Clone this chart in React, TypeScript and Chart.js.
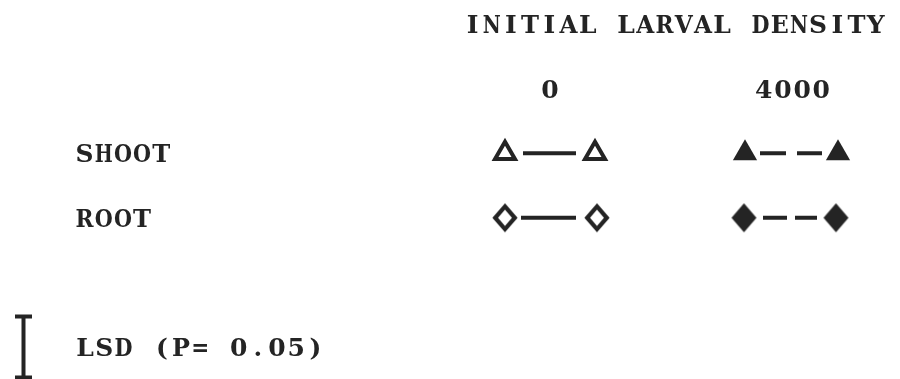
import { useEffect, useRef } from "react";
import { Chart, registerables } from "chart.js";

Chart.register(...registerables);

// ---- text content ----
const titleText = "INITIAL LARVAL DENSITY";
const densityLabels = ["0", "4000"];
const organLabels = ["SHOOT", "ROOT"];
const lsdText = "LSD (P= 0.05)";

// ---- typewriter lines (y scale is in line units) ----
const titleLine = 0;
const densityLine = 1;
const organLines = [2, 3];
const lsdLine = 5;

// ---- horizontal positions (x scale units) ----
const charAdvance = 19.2;
const titleFirstCenter = 472.5;
const densityCenters = [550, 792.5];
const organFirstCenter = 84.5;
const lsdFirstCenter = 85;

// legend samples: symbol centres and connecting line spans
const shootOpenX = [505, 595];
const shootFilledX = [745, 838];
const rootOpenX = [505, 597];
const rootFilledX = [744, 836];
const shootOpenSpan = [523, 576];
const shootFilledSpan = [760, 822];
const rootOpenSpan = [521, 576];
const rootFilledSpan = [763, 817];

// LSD bar
const lsdBarX = 23.5;
const lsdCapX = [15, 32];
const lsdHalfLength = 0.472;

const INK = "#242424";

function makeDiamond(w: number, h: number, filled: boolean): HTMLCanvasElement {
  const c = document.createElement("canvas");
  c.width = w + 4;
  c.height = h + 4;
  const g = c.getContext("2d")!;
  const cx = c.width / 2;
  const cy = c.height / 2;
  const lw = 4.2;
  const ix = filled ? 0 : lw * 0.75;
  const iy = filled ? 0 : lw * 0.75;
  g.beginPath();
  g.moveTo(cx, cy - h / 2 + iy);
  g.lineTo(cx + w / 2 - ix, cy);
  g.lineTo(cx, cy + h / 2 - iy);
  g.lineTo(cx - w / 2 + ix, cy);
  g.closePath();
  if (filled) {
    g.fillStyle = INK;
    g.fill();
  } else {
    g.fillStyle = "#fff";
    g.fill();
    g.lineWidth = lw;
    g.lineJoin = "miter";
    g.strokeStyle = INK;
    g.stroke();
  }
  return c;
}

const typewriterPlugin = {
  id: "typewriterText",
  afterDatasetsDraw(chart: any) {
    const { ctx, scales } = chart;
    const xs = scales.x;
    const ys = scales.y;
    ctx.save();
    ctx.fillStyle = INK;
    ctx.font = 'bold 25px "DejaVu Serif"';
    ctx.textAlign = "center";
    ctx.textBaseline = "alphabetic";
    const put = (s: string, firstCenter: number, line: number) => {
      const py = ys.getPixelForValue(line) + 9;
      for (let i = 0; i < s.length; i++) {
        const ch = s[i];
        if (ch === " ") continue;
        const w = ctx.measureText(ch).width;
        const sx = Math.min(1, 18 / w);
        ctx.save();
        ctx.translate(xs.getPixelForValue(firstCenter + i * charAdvance), py);
        ctx.scale(sx, 1);
        ctx.fillText(ch, 0, 0);
        ctx.restore();
      }
    };
    put(titleText, titleFirstCenter, titleLine);
    densityLabels.forEach((s, i) => {
      put(s, densityCenters[i] - ((s.length - 1) / 2) * charAdvance, densityLine);
    });
    organLabels.forEach((s, i) => put(s, organFirstCenter, organLines[i]));
    put(lsdText, lsdFirstCenter, lsdLine);
    ctx.restore();
  },
};

export default function App() {
  const ref = useRef<HTMLCanvasElement | null>(null);

  useEffect(() => {
    if (!ref.current) return;
    const openDiamond = makeDiamond(26, 29, false);
    const filledDiamond = makeDiamond(25, 29, true);

    const seg = (span: number[], line: number, dash: number[]) => ({
      type: "line" as const,
      data: span.map((x) => ({ x, y: line })),
      showLine: true,
      borderColor: INK,
      borderWidth: 4,
      borderDash: dash,
      borderCapStyle: "butt" as const,
      pointRadius: 0,
      fill: false,
    });

    const sym = (xsArr: number[], line: number, style: any, filled: boolean, r: number) => ({
      type: "scatter" as const,
      data: xsArr.map((x) => ({ x, y: line })),
      showLine: false,
      pointStyle: style,
      pointRadius: r,
      pointBorderWidth: filled ? 0 : 4,
      pointBorderColor: INK,
      pointBackgroundColor: filled ? INK : "#fff",
    });

    const lsdY0 = lsdLine - lsdHalfLength;
    const lsdY1 = lsdLine + lsdHalfLength;

    const chart = new Chart(ref.current, {
      type: "scatter",
      data: {
        datasets: [
          seg(shootOpenSpan, organLines[0], []),
          seg(shootFilledSpan, organLines[0], [26, 11]),
          seg(rootOpenSpan, organLines[1], []),
          seg(rootFilledSpan, organLines[1], [24, 8]),
          sym(shootOpenX, organLines[0], "triangle", false, 11.5),
          sym(shootFilledX, organLines[0], "triangle", true, 14),
          sym(rootOpenX, organLines[1], openDiamond, false, 13),
          sym(rootFilledX, organLines[1], filledDiamond, true, 13),
          {
            type: "line" as const,
            data: [
              { x: lsdCapX[0], y: lsdY0 },
              { x: lsdCapX[1], y: lsdY0 },
              { x: lsdBarX, y: null as any },
              { x: lsdBarX, y: lsdY0 },
              { x: lsdBarX, y: lsdY1 },
              { x: lsdBarX + 0.01, y: null as any },
              { x: lsdCapX[0], y: lsdY1 },
              { x: lsdCapX[1], y: lsdY1 },
            ],
            showLine: true,
            spanGaps: false,
            borderColor: INK,
            borderWidth: 4,
            borderCapStyle: "butt" as const,
            pointRadius: 0,
            fill: false,
          },
        ] as any,
      },
      options: {
        animation: false,
        responsive: true,
        maintainAspectRatio: false,
        layout: { padding: 0, autoPadding: false },
        plugins: { legend: { display: false }, tooltip: { enabled: false }, title: { display: false } },
        events: [],
        scales: {
          x: { type: "linear", min: 0, max: 900, display: false },
          y: { type: "linear", min: -24 / 64.6, max: 355 / 64.6, reverse: true, display: false },
        },
        datasets: { line: { clip: false } as any, scatter: { clip: false } as any },
      } as any,
      plugins: [typewriterPlugin],
    });
    return () => chart.destroy();
  }, []);

  return (
    <div style={{ position: "absolute", left: 0, top: 0, width: 900, height: 379, background: "#fff" }}>
      <canvas ref={ref} />
    </div>
  );
}
